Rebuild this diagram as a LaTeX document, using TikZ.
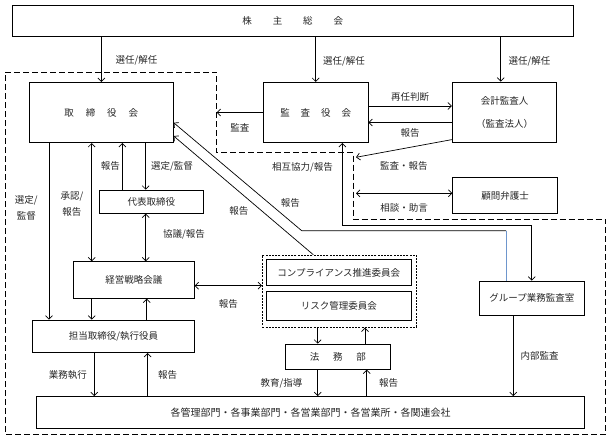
\documentclass[tikz,border=0pt]{standalone}
\usepackage{fontspec}
\setmainfont{Noto Sans CJK JP}
\usepackage{tikz}
\usetikzlibrary{positioning}
\usetikzlibrary{arrows.meta}
\definecolor{linkblue}{RGB}{110,150,205}
\tikzset{
  box/.style={draw, inner sep=0pt, align=center, font=\fontsize{9.5}{11}\selectfont},
  dotbox/.style={draw, dash pattern=on 2pt off 1.2pt, inner sep=0pt},
  outline/.style={draw, dash pattern=on 6pt off 3pt},
  lab/.style={inner sep=1pt, align=center, font=\fontsize{9.5}{11}\selectfont}
}

\begin{document}
\begin{tikzpicture}[x=1pt, y=-1pt, line width=0.7pt, >={Straight Barb[length=3.5pt,width=7pt]}, every node/.style={text=black!85}]
\useasboundingbox (0,0) rectangle (607,441);

% boxes
\node[box, minimum width=561pt, minimum height=31.5pt] (kabu) at (292.8,20.8) {株\hspace{2.2em}主\hspace{2.2em}総\hspace{2.2em}会};
\node[box, minimum width=144pt, minimum height=60.4pt] (tori) at (101.3,112.5) {取\hspace{1.25em}締\hspace{1.25em}役\hspace{1.25em}会};
\node[box, minimum width=104.7pt, minimum height=60.4pt] (kansa) at (315.7,112.5) {監\hspace{1.15em}査\hspace{1.15em}役\hspace{1.15em}会};
\node[box, minimum width=104.4pt, minimum height=60.7pt] (kaikei) at (504.5,112.3) {会計監査人\\[12pt]（監査法人）};
\node[box, minimum width=104.2pt, minimum height=23.3pt] (daihyo) at (151.4,201.7) {代表取締役};
\node[box, minimum width=105pt, minimum height=35.6pt] (komon) at (505.2,195.5) {顧問弁護士};
\node[box, minimum width=121pt, minimum height=36.6pt] (keiei) at (133.8,280) {経営戦略会議};
\node[dotbox, minimum width=153.7pt, minimum height=72.3pt] (iinkai) at (339.2,291.2) {};
\node[box, minimum width=144.3pt, minimum height=26.4pt] (comp) at (338.8,272.5) {コンプライアンス推進委員会};
\node[box, minimum width=144.3pt, minimum height=28.3pt] (risk) at (338.8,305.8) {リスク管理委員会};
\node[box, minimum width=105pt, minimum height=34.7pt] (group) at (531.8,298.3) {グループ業務監査室};
\node[box, minimum width=161.6pt, minimum height=32.7pt] (tanto) at (113.5,336.3) {担当取締役/執行役員};
\node[box, minimum width=104.3pt, minimum height=25.3pt] (houmu) at (337.9,356.7) {法\hspace{1.45em}務\hspace{1.45em}部};
\node[box, minimum width=547.6pt, minimum height=31.5pt, font=\fontsize{10}{12}\selectfont] (kaku) at (310.5,412.2) {各管理部門・各事業部門・各営業部門・各営業所・各関連会社};

% dashed outline
\coordinate (dA) at (5,72);
\coordinate (dB) at (216.7,72);
\coordinate (dC) at (216.7,152.7);
\coordinate (dD) at (353.3,152.7);
\coordinate (dE) at (353.3,219.5);
\coordinate (dF) at (605.7,219.5);
\coordinate (dG) at (605.7,434.3);
\coordinate (dH) at (5,434.3);
\draw[outline] (dA) -- (dB) -- (dC) -- (dD) -- (dE) -- (dF) -- (dG) -- (dH) -- cycle;
\coordinate (tipA) at (356,157.3);
\coordinate (k1) at (301.7,230.7);
\coordinate (k2) at (506,230.7);

% shareholders
\draw[->] (kabu.south -| tori.north) -- (tori.north) node[lab, pos=.53, right=13pt] {選任/解任};
\draw[->] (kabu.south -| kansa.north) -- (kansa.north) node[lab, pos=.55, right=6pt] {選任/解任};
\draw[->] ([xshift=-3.8pt]kaikei.north |- kabu.south) -- ([xshift=-3.8pt]kaikei.north) node[lab, pos=.55, right=6.5pt] {選任/解任};

% audit side
\draw[->] ([yshift=6.5pt]kansa.east) -- ([yshift=6.5pt]kansa.east -| kaikei.west) node[lab, midway, above=3pt] {再任判断};
\draw[->] ([yshift=-10.2pt]kaikei.west) -- ([yshift=-10.2pt]kaikei.west -| kansa.east) node[lab, midway, below=4.5pt] {報告};
\draw[->] (kansa.west) -- (kansa.west -| dB) node[lab, midway, below=10pt] {監査};
\draw[->] ([yshift=3.4pt]kaikei.south west) -- (tipA) node[lab, midway, below=12pt] {監査・報告};
\draw[<->] ([yshift=2.2pt]komon.west) -- ([yshift=2.2pt]komon.west -| tipA) node[lab, midway, below=9pt] {相談・助言};
\draw[<->] ([xshift=26.6pt]kansa.south) -- node[lab, pos=.3, left=8pt] {相互協力/報告} ++(0,82.3) -| (group.north);
\draw[<-] ([yshift=-10.2pt]tori.east) -- node[lab, pos=.74, right=11pt] {報告} (k1) -- (k2);
\draw[linkblue] (k2) -- (k2 |- group.north);
\draw[->] ([xshift=-25.9pt]iinkai.north) -- ([yshift=-23.5pt]tori.east) node[lab, pos=.37, left=12pt] {報告};

% board side
\draw[->] ([xshift=-52.3pt]tori.south) -- ([xshift=-52.3pt]tori.south |- tanto.north) node[lab, pos=.37, left=10pt] {選定/\\[5pt]監督};
\draw[<->] ([xshift=-9.6pt]tori.south) -- ([xshift=-9.6pt]tori.south |- keiei.north) node[lab, pos=.52, left=7pt] {承認/\\[5pt]報告};
\draw[->] ([xshift=-29.1pt]daihyo.north) -- ([xshift=-29.1pt]daihyo.north |- tori.south) node[lab, midway, left=1pt] {報告};
\draw[->] ([xshift=-5.7pt]daihyo.north |- tori.south) -- ([xshift=-5.7pt]daihyo.north) node[lab, midway, right=4pt] {選定/監督};
\draw[<->] ([xshift=-5.7pt]daihyo.south) -- ([xshift=-5.7pt]daihyo.south |- keiei.north) node[lab, pos=.43, right=16pt] {協議/報告};
\draw[<->] ([yshift=-5.7pt]keiei.east) -- ([yshift=-5.7pt]keiei.east -| iinkai.west) node[lab, midway, below=12pt] {報告};
\draw[->] ([xshift=-42.1pt]keiei.south) -- ([xshift=-42.1pt]keiei.south |- tanto.north);
\draw[->] ([xshift=12.9pt]keiei.south |- tanto.north) -- ([xshift=12.9pt]keiei.south);
\draw[->] ([xshift=-19.2pt]tanto.south) -- ([xshift=-19.2pt]tanto.south |- kaku.north) node[lab, midway, left=6pt] {業務執行};
\draw[->] ([xshift=34.2pt]tanto.south |- kaku.north) -- ([xshift=34.2pt]tanto.south) node[lab, midway, right=9pt] {報告};

% legal, internal audit
\draw[->] ([xshift=-20.2pt]houmu.north |- iinkai.south) -- ([xshift=-20.2pt]houmu.north);
\draw[->] ([xshift=27.1pt]houmu.north) -- ([xshift=27.1pt]houmu.north |- iinkai.south);
\draw[->] ([xshift=-20.2pt]houmu.south) -- ([xshift=-20.2pt]houmu.south |- kaku.north) node[lab, midway, left=14pt] {教育/指導};
\draw[->] ([xshift=28.8pt]houmu.south |- kaku.north) -- ([xshift=28.8pt]houmu.south) node[lab, midway, right=11pt] {報告};
\draw[->] ([xshift=-18.5pt]group.south) -- ([xshift=-18.5pt]group.south |- kaku.north) node[lab, midway, right=6pt] {内部監査};
\end{tikzpicture}
\end{document}
